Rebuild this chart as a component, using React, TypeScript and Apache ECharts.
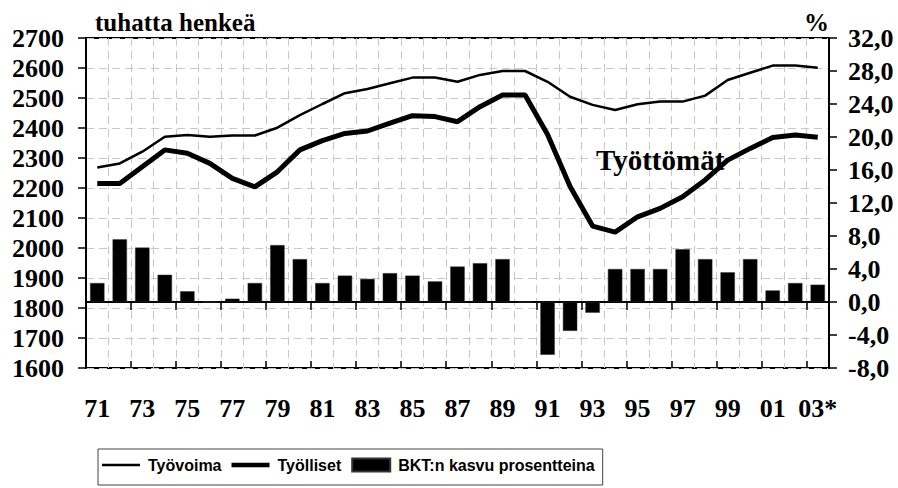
import React, { useEffect, useRef } from "react";
import * as echarts from "echarts";

const years = ["71","72","73","74","75","76","77","78","79","80","81","82","83","84","85","86","87","88","89","90","91","92","93","94","95","96","97","98","99","00","01","02","03*"];
const tyovoima = [2268, 2282, 2321, 2371, 2377, 2371, 2375, 2375, 2401, 2443, 2480, 2516, 2530, 2549, 2568, 2568, 2554, 2577, 2590, 2590, 2554, 2504, 2477, 2460, 2479, 2488, 2488, 2508, 2560, 2584, 2608, 2608, 2601];
const tyolliset = [2215, 2215, 2271, 2327, 2316, 2282, 2232, 2204, 2254, 2327, 2358, 2382, 2390, 2416, 2441, 2438, 2421, 2471, 2510, 2510, 2378, 2205, 2073, 2053, 2104, 2132, 2171, 2227, 2293, 2332, 2368, 2377, 2369];
const bkt = [2.3, 7.6, 6.6, 3.3, 1.3, 0, 0.4, 2.3, 6.9, 5.2, 2.3, 3.2, 2.8, 3.5, 3.2, 2.5, 4.3, 4.7, 5.2, 0, -6.4, -3.5, -1.3, 4.0, 4.0, 4.0, 6.4, 5.2, 3.6, 5.2, 1.4, 2.3, 2.1];

const serif = "'Liberation Serif', 'Times New Roman', serif";
const sans = "'Liberation Sans', Arial, sans-serif";

export default function App() {
  const ref = useRef<HTMLDivElement>(null);
  useEffect(() => {
    if (!ref.current) return;
    const chart = echarts.init(ref.current, null, { renderer: "svg" });
    const labelStyle = { fontFamily: serif, fontWeight: "bold" as const, fontSize: 26, color: "#000" };
    chart.setOption({
      animation: false,
      backgroundColor: "#fff",
      grid: { left: 86, right: 69, top: 38, bottom: 120, show: true, borderColor: "#000", borderWidth: 2, backgroundColor: "transparent" },
      legend: {
        left: 98, top: 449,
        padding: [8, 8, 12, 4],
        borderColor: "#444", borderWidth: 1,
        itemWidth: 38, itemHeight: 13, itemGap: 10,
        symbolKeepAspect: true,
        textStyle: { fontFamily: sans, fontWeight: "bold", fontSize: 16, color: "#000", padding: [0, 0, 0, 3] },
        data: [
          { name: "Työvoima", icon: "path://M0,0L38,0L38,2.5L0,2.5Z", itemStyle: { color: "#000" } },
          { name: "Työlliset", icon: "path://M0,0L38,0L38,4.5L0,4.5Z", itemStyle: { color: "#000" } },
          { name: "BKT:n kasvu prosentteina", icon: "rect", itemStyle: { color: "#000" } },
        ],
      },
      xAxis: [
        {
          type: "category", data: years, boundaryGap: true,
          axisLine: { lineStyle: { color: "#000", width: 2 } },
          axisTick: { show: true, length: 8, lineStyle: { color: "#000", width: 1.5 } },
          axisLabel: { ...labelStyle, interval: 1, margin: 27 },
          splitLine: { show: true, interval: 0, lineStyle: { color: "#c8c8c8", type: [8, 5], width: 1 } },
        },
        {
          type: "category", data: years, boundaryGap: true, position: "bottom",
          axisLine: { show: false },
          axisTick: { show: true, inside: true, length: 7, lineStyle: { color: "#000", width: 1.5 } },
          axisLabel: { show: false },
          splitLine: { show: false },
        },
      ],
      yAxis: [
        {
          type: "value", min: 1600, max: 2700, interval: 100, position: "left",
          axisLine: { show: true, lineStyle: { color: "#000", width: 2 } },
          axisTick: { show: true, length: 8, lineStyle: { color: "#000", width: 1.5 } },
          axisLabel: { ...labelStyle, margin: 22, formatter: (v: number) => String(v) },
          splitLine: { show: true, lineStyle: { color: "#c8c8c8", type: [8, 5], width: 1 } },
        },
        {
          type: "value", min: -8, max: 32, interval: 4, position: "right",
          axisLine: { show: true, lineStyle: { color: "#000", width: 2 } },
          axisTick: { show: true, length: 8, lineStyle: { color: "#000", width: 1.5 } },
          axisLabel: { ...labelStyle, margin: 19, formatter: (v: number) => v.toFixed(1).replace(".", ",") },
          splitLine: { show: false },
        },
      ],
      series: [
        {
          name: "BKT:n kasvu prosentteina", type: "bar", xAxisIndex: 0, yAxisIndex: 1,
          data: bkt, barWidth: "64%",
          itemStyle: { color: "#000", borderColor: "#333", borderWidth: 0.5 },
          z: 2,
        },
        {
          name: "Työvoima", type: "line", xAxisIndex: 0, yAxisIndex: 0,
          data: tyovoima, symbol: "none",
          lineStyle: { color: "#000", width: 2.5 }, itemStyle: { color: "#000" },
          z: 3,
        },
        {
          name: "Työlliset", type: "line", xAxisIndex: 0, yAxisIndex: 0,
          data: tyolliset, symbol: "none",
          lineStyle: { color: "#000", width: 5 }, itemStyle: { color: "#000" },
          z: 3,
        },
      ],
      graphic: [
        { type: "text", left: 95, top: 10, style: { text: "tuhatta henkeä", font: `bold 25px ${serif}`, fill: "#000" } },
        { type: "text", right: 69, top: 10, style: { text: "%", font: `bold 25px ${serif}`, fill: "#000" } },
        { type: "text", left: 596, top: 145, z: 10, style: { text: "Työttömät", font: `bold 29px ${serif}`, fill: "#000" } },
      ],
    });
    return () => chart.dispose();
  }, []);
  return <div ref={ref} style={{ position: "fixed", left: 0, top: 0, width: 898, height: 488 }} />;
}
